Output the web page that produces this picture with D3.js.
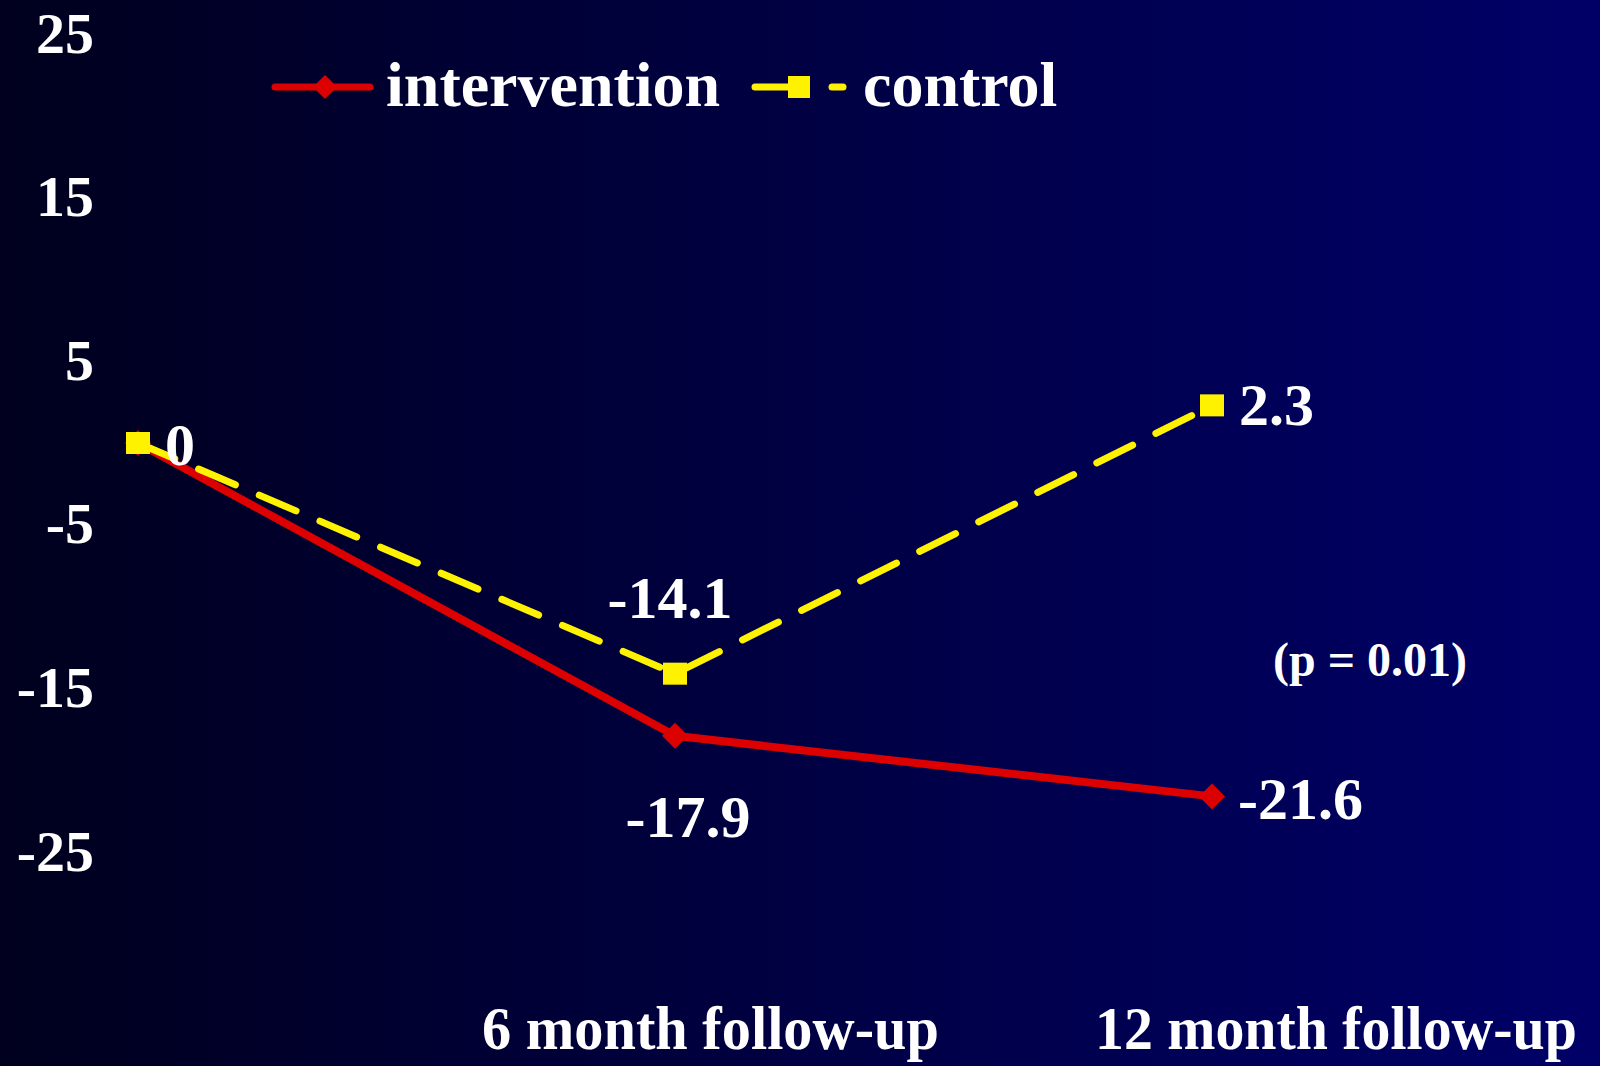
<!DOCTYPE html>
<html>
<head>
<meta charset="utf-8">
<script src="https://cdn.jsdelivr.net/npm/d3@7"></script>
<style>
  html, body { margin: 0; padding: 0; background: #000033; }
  svg { display: block; font-family: "Liberation Serif", "Times New Roman", serif; font-weight: bold; }
</style>
</head>
<body>
<svg id="chart" width="1600" height="1066"></svg>
<script>
// data
const categories = ["baseline", "6 month follow-up", "12 month follow-up"];
const categoryLabels = ["", "6 month follow-up", "12 month follow-up"];
const intervention = [0, -17.9, -21.6];
const control = [0, -14.1, 2.3];
const yTicks = [25, 15, 5, -5, -15, -25];
const pLabel = "(p = 0.01)";

const svg = d3.select("#chart");
const width = +svg.attr("width");
const height = +svg.attr("height");

// background gradient
const grad = svg.append("defs").append("linearGradient")
    .attr("id", "bg")
    .attr("x1", "0%").attr("y1", "0%")
    .attr("x2", "100%").attr("y2", "0%");
grad.append("stop").attr("offset", "0%").style("stop-color", "#00001e");
grad.append("stop").attr("offset", "100%").style("stop-color", "#000068");

svg.append("rect")
    .attr("width", width).attr("height", height)
    .attr("fill", "url(#bg)");

// scales
const x = d3.scalePoint().domain(categories).range([138, 1212]);
const y = d3.scaleLinear().domain([-25, 25]).range([852, 34]);

// y axis, labels only (plain hyphen for negatives)
const yAxis = svg.append("g")
    .attr("transform", "translate(94,0)")
    .call(d3.axisLeft(y).tickValues(yTicks).tickSize(0).tickPadding(0).tickFormat(d => String(d)));
yAxis.select(".domain").remove();
yAxis.selectAll("text")
    .attr("fill", "#ffffff")
    .attr("font-size", 58)
    .attr("font-family", "Liberation Serif, serif")
    .attr("font-weight", "bold")
    .attr("dy", 18);

// category labels, horizontally squeezed like the original slide
const catLayout = [null, {x: 482, w: 457}, {x: 1095, w: 482}];
categoryLabels.forEach((c, i) => {
    if (!c) return;
    const t = svg.append("text")
        .attr("font-size", 62)
        .attr("fill", "#ffffff")
        .text(c);
    const sx = catLayout[i].w / t.node().getComputedTextLength();
    t.attr("transform", `translate(${catLayout[i].x},1049) scale(${sx},1)`);
});

const red = "#dd0000";
const yellow = "#fff200";

const line = d3.line()
    .x((d, i) => x(categories[i]))
    .y(d => y(d));

// intervention
svg.append("path")
    .datum(intervention)
    .attr("d", line)
    .attr("fill", "none")
    .attr("stroke", red)
    .attr("stroke-width", 8)
    .attr("stroke-linejoin", "round");

const diamond = d3.symbol().type(d3.symbolSquare).size(26 * 26 / 2);

svg.selectAll(".dia")
    .data(intervention)
    .join("path")
    .attr("class", "dia")
    .attr("d", diamond)
    .attr("transform", (d, i) => `translate(${x(categories[i])},${y(d)}) rotate(45)`)
    .attr("fill", red);

// control
svg.append("path")
    .datum(control)
    .attr("d", line)
    .attr("fill", "none")
    .attr("stroke", yellow)
    .attr("stroke-width", 7)
    .attr("stroke-linecap", "round")
    .attr("stroke-dasharray", "40,26");

svg.selectAll(".sq")
    .data(control)
    .join("rect")
    .attr("class", "sq")
    .attr("x", (d, i) => x(categories[i]) - 12)
    .attr("y", d => y(d) - 11)
    .attr("width", 24)
    .attr("height", 22)
    .attr("fill", yellow);

// value labels
const valueLabels = [
    {v: control[0], i: 0, dx: 27, dy: 22, anchor: "start"},
    {v: control[1], i: 1, dx: -5, dy: -56, anchor: "middle"},
    {v: control[2], i: 2, dx: 27, dy: 20, anchor: "start"},
    {v: intervention[1], i: 1, dx: 13, dy: 101, anchor: "middle"},
    {v: intervention[2], i: 2, dx: 26, dy: 23, anchor: "start"}
];

svg.selectAll(".val")
    .data(valueLabels)
    .join("text")
    .attr("class", "val")
    .attr("x", d => x(categories[d.i]) + d.dx)
    .attr("y", d => y(d.v) + d.dy)
    .attr("text-anchor", d => d.anchor)
    .attr("font-size", 60)
    .attr("fill", "#ffffff")
    .text(d => d.v);

svg.append("text")
    .attr("x", 1273)
    .attr("y", 676)
    .attr("font-size", 48)
    .attr("fill", "#ffffff")
    .text(pLabel);

// legend
const legend = svg.append("g");
legend.append("line")
    .attr("x1", 275).attr("x2", 370).attr("y1", 87).attr("y2", 87)
    .attr("stroke", red).attr("stroke-width", 7).attr("stroke-linecap", "round");
legend.append("path")
    .attr("d", d3.symbol().type(d3.symbolSquare).size(24 * 24 / 2))
    .attr("transform", "translate(325,87) rotate(45)")
    .attr("fill", red);
legend.append("text")
    .attr("x", 386).attr("y", 106)
    .attr("font-size", 64).attr("fill", "#ffffff")
    .text("intervention");

legend.append("line")
    .attr("x1", 755).attr("x2", 800).attr("y1", 87).attr("y2", 87)
    .attr("stroke", yellow).attr("stroke-width", 7).attr("stroke-linecap", "round");
legend.append("line")
    .attr("x1", 832).attr("x2", 843).attr("y1", 87).attr("y2", 87)
    .attr("stroke", yellow).attr("stroke-width", 7).attr("stroke-linecap", "round");
legend.append("rect")
    .attr("x", 788).attr("y", 76).attr("width", 22).attr("height", 22)
    .attr("fill", yellow);
legend.append("text")
    .attr("x", 863).attr("y", 106)
    .attr("font-size", 64).attr("fill", "#ffffff")
    .text("control");
</script>
</body>
</html>
